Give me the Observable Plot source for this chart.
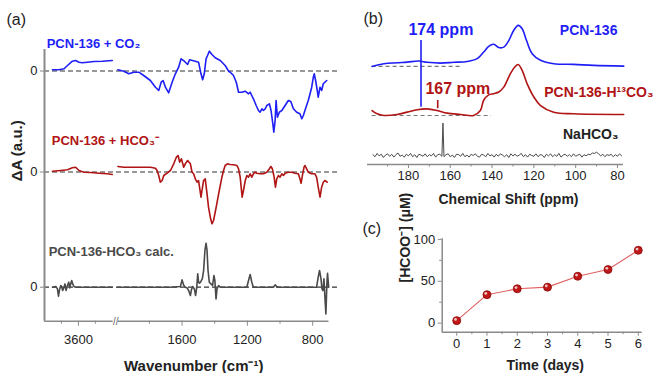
<!DOCTYPE html>
<html><head><meta charset="utf-8">
<script src="https://cdn.jsdelivr.net/npm/d3@7"></script>
<script src="https://cdn.jsdelivr.net/npm/@observablehq/plot@0.6"></script>
<style>
body{margin:0;background:#fff;}
#fig{position:relative;width:656px;height:373px;overflow:hidden;font-family:Arial,"Liberation Sans",sans-serif;background:#fff;}
.panel{position:absolute;}
</style></head><body><div id="fig">
<div class="panel" id="pa" style="left:0;top:0;width:345px"></div>
<div class="panel" id="pb" style="left:340px;top:0;width:316px"></div>
<div class="panel" id="pc" style="left:340px;top:210px;width:316px"></div>
</div>
<script>
// ---------- Panel (a): difference IR spectra ----------
const blueLeftW = [3906,3828,3769,3729,3671,3632,3593,3553,3494,3417,3318,3200];
const blueLeftA = [0.012,0.012,0.022,0.055,0.098,0.105,0.088,0.082,0.088,0.095,0.098,0.105];
const blueRightW = [1993,1957,1926,1896,1865,1835,1794,1763,1743,1728,1716,1702,1682,1661,1641,1621,1606,1586,1566,1554,1519,1499,1484,1474,1464,1453,1444,1433,1417,1397,1366,1336,1315,1305,1285,1268,1254,1234,1213,1193,1183,1173,1163,1146,1132,1122,1111,1102,1091,1081,1065,1055,1044,1038,1030,1024,1016,1004,989,969,949,934,918,898,878,867,857,841,827,816,806,796,790,782,772,766,755,745,735,725,714];
const blueRightA = [0.012,-0.002,-0.028,-0.012,-0.012,-0.045,-0.095,-0.162,-0.195,-0.112,-0.095,-0.162,-0.218,-0.112,-0.028,0.038,0.122,0.098,0.065,0.112,0.098,0.088,-0.028,-0.088,-0.028,0.122,0.155,0.198,0.165,0.132,0.105,0.055,-0.002,-0.012,-0.045,-0.112,-0.212,-0.212,-0.202,-0.228,-0.212,-0.245,-0.278,-0.345,-0.395,-0.412,-0.378,-0.395,-0.378,-0.345,-0.328,-0.395,-0.528,-0.612,-0.495,-0.295,-0.462,-0.412,-0.395,-0.345,-0.295,-0.305,-0.378,-0.412,-0.428,-0.478,-0.445,-0.362,-0.295,-0.228,-0.162,-0.062,-0.028,-0.095,-0.195,-0.262,-0.162,-0.195,-0.128,-0.112,-0.095];
const redLeftW = [3906,3808,3729,3671,3632,3593,3534,3455,3358,3259,3200];
const redLeftA = [0.008,0.015,0.022,0.042,0.048,0.015,-0.002,-0.005,-0.012,-0.018,-0.025];
const redRightW = [1993,1957,1875,1794,1763,1753,1743,1733,1722,1712,1692,1671,1651,1635,1624,1615,1604,1590,1580,1566,1549,1539,1529,1519,1508,1499,1493,1484,1478,1468,1458,1447,1438,1427,1417,1407,1391,1376,1366,1356,1346,1336,1322,1305,1285,1264,1254,1244,1238,1232,1224,1213,1203,1193,1183,1173,1163,1152,1142,1122,1102,1081,1065,1056,1047,1036,1028,1020,1010,1000,989,979,969,949,928,908,888,878,871,861,853,847,837,827,806,786,776,766,755,745,735,725,711];
const redRightA = [0.055,0.048,0.048,0.048,0.038,0.015,-0.035,-0.102,-0.085,-0.035,-0.012,0.015,0.082,0.148,0.165,0.098,0.132,0.048,0.082,0.115,0.082,-0.002,-0.018,-0.068,-0.102,-0.085,-0.152,-0.252,-0.185,-0.085,-0.068,-0.218,-0.352,-0.452,-0.518,-0.485,-0.352,-0.218,-0.135,-0.052,0.015,0.065,0.082,0.075,0.072,0.065,0.032,-0.052,-0.152,-0.252,-0.185,-0.085,-0.035,-0.052,-0.018,-0.052,-0.018,-0.002,-0.012,-0.018,-0.018,-0.002,0.032,0.055,0.032,-0.052,-0.152,-0.068,-0.035,-0.052,-0.018,-0.035,-0.012,-0.002,-0.002,-0.012,-0.018,-0.068,-0.112,-0.018,0.048,0.065,0.032,-0.002,-0.018,-0.018,-0.052,-0.152,-0.252,-0.152,-0.102,-0.085,-0.102];
const calcLeftW = [3906,3867,3847,3835,3823,3808,3796,3785,3769,3758,3746,3729,3714,3702,3691,3679,3667,3652,3632,3200];
const calcLeftA = [0,0.007,-0.017,-0.09,-0.027,0.017,0,-0.033,0,0.033,-0.033,0.017,0.05,-0.007,0.033,0.067,0.033,0.007,0,0];
const calcRightW = [1995,1671,1610,1600,1590,1580,1569,1560,1549,1543,1535,1525,1517,1510,1504,1499,1493,1484,1476,1468,1460,1453,1447,1441,1433,1423,1413,1405,1399,1392,1386,1376,1366,1203,1193,1183,1173,1163,1041,1030,1020,1010,776,766,758,749,743,737,731,725,719,713,709,702];
const calcRightA = [0,0,0.007,0.073,0.02,0,-0.007,-0.033,-0.083,-0.027,0.007,-0.017,-0.083,0,0.133,0.05,0.04,0.06,0.083,0.167,0.367,0.44,0.367,0.167,0.05,0.033,0.017,0.117,0.067,-0.117,-0.017,0.017,0,0,0.067,0.127,0.05,0,0,0.023,0.007,0,0,0.1,0.167,0.083,-0.017,-0.033,0.083,-0.1,-0.267,0.033,0.14,0];
const irSeries = ["PCN-136 + CO₂", "PCN-136 + HCO₃⁻", "PCN-136-HCO₃ calc."];
const irOffsets = [2.162, 1.152, 0];
const irColors = ["#1f1ff5", "#b01414", "#4a4a4a"];
const irLabelW = [3974, 3914, 3951];
const irLabelA = [0.275, 0.315, 0.357];
const wnMajor = [3600, 1600, 1200, 800];
const wnMinor = [3800, 3400, 1800, 1400, 1000];
const wnAxisPieces = [[4000, 3190], [1990, 700]];

// ---------- Panel (b): 13C NMR ----------
const nmrBluePpm = [197.4,191.8,185.4,180.6,175.1,171.1,164.7,158.3,151.9,147.1,144,141.6,139.2,136.8,134.4,132,129.6,127.5,125.6,123.5,120.8,116.8,110.5,100.9,91.3,77];
const nmrBlueI = [0,0.066,0.09,0.105,0.13,0.1,0.08,0.1,0.12,0.19,0.35,0.49,0.54,0.46,0.47,0.63,0.88,1.0,0.92,0.63,0.31,0.15,0.066,0.05,0.024,0.007];
const nmrRedPpm = [197.4,195,191.8,185.4,180.6,175.8,171.1,166.3,161.5,155.1,148.8,145.6,144,141.6,139.2,136.8,134.4,131.2,129.1,127.5,125.6,123.2,120,116.8,110.5,100.9,77];
const nmrRedI = [0.12,0.04,0,0.024,0.08,0.14,0.16,0.12,0.056,0.024,0,0.12,0.37,0.5,0.53,0.57,0.69,1.02,1.18,1.24,1.1,0.77,0.45,0.24,0.08,0.04,0.024];
const nmrNaPpm = [197,196,195,194,193,192,191,190,189,188,187,186,185,184,183,182,181,180,179,178,177,176,175,174,173,172,171,170,169,168,167,166,165,164,163.5,163,162,161,160,159,158,157,156,155,154,153,152,151,150,149,148,147,146,145,144,143,142,141,140,139,138,137,136,135,134,133,132,131,130,129,128,127,126,125,124,123,122,121,120,119,118,117,116,115,114,113,112,111,110,109,108,107,106,105,104,103,102,101,100,99,98,97,96,95,94,93,92,91,90,89,88,87,86,85,84,83,82,81,80,79,78];
const nmrNaI = [0.02,-0.03,0.05,-0.01,0.03,-0.05,0.01,0.04,-0.02,0.03,-0.04,0.02,0.06,-0.02,0.01,-0.04,0.03,-0.01,0.05,-0.03,0.02,-0.05,0.03,0.01,-0.02,0.04,-0.03,0.02,-0.01,0.05,-0.04,0.02,0.03,-0.02,
  0.79,
  -0.03,0.02,0.04,-0.03,0.01,-0.05,0.03,0.02,-0.02,0.05,-0.03,0.01,-0.04,0.03,0,0.04,-0.02,-0.04,0.03,0.01,
  -0.03,0.05,-0.01,0.02,-0.04,0.03,-0.02,0.04,0.01,-0.03,0.02,-0.05,0.04,-0.01,0.03,-0.02,0.01,0.05,-0.03,0.02,
  -0.04,0.03,0,-0.02,0.04,-0.03,0.02,0.01,-0.05,0.03,-0.01,0.04,-0.03,0.02,-0.02,0.05,-0.04,0.01,0.03,-0.02,
  0.02,-0.03,0.04,-0.02,0.01,0.03,-0.04,0.02,-0.01,0.03,0.02,0.06,0.05,0.08,0.04,-0.01,0.03,-0.03,0.02,0,
  0.03,-0.03,0.02,-0.02,0.04,-0.01];
const nmrOffsets = [2.171, 0.976, 0];
const nmrColors = ["#1f1ff5", "#b01414", "#4a4a4a"];
const nmrNames = ["PCN-136", "PCN-136-H¹³CO₃", "NaHCO₃"];
const nmrNameX = [80, 62.8, 79.5];
const nmrNameI = [0.88, 0.56, 0.51];
const nmrBaseStart = [197.4, 197.4];
const nmrBaseEnd = [154.3, 140.3];
const peakMarks = [174, 166];
const peakLabels = ["174 ppm", "167 ppm"];
const peakLabelX = [180, 171.9];
const peakLabelI = [3.07, 1.63];
const peakLow = [1.178, 1.139];
const peakHigh = [2.805, 1.341];
const ppmTicks = [180, 160, 140, 120, 100, 80];
const ppmMinor = [190, 170, 150, 130, 110, 90];

// ---------- Panel (c): formate ----------
const days = [0, 1, 2, 3, 4, 5, 6];
const formate = [3, 34, 41, 43, 56, 64, 87];
const dayMinor = [0.5, 1.5, 2.5, 3.5, 4.5, 5.5];
const concTicks = [0, 50, 100];
const concMinor = [25, 75];

const FONT = "Arial, 'Liberation Sans', sans-serif";
const baseStyle = {fontFamily: FONT, fontSize: "13px", color: "#222", background: "transparent", overflow: "visible"};
const AXC = "#8a8a8a";

// broken wavenumber axis: left segment (3200-4000) compressed
const U = w => w > 2500 ? 2235 + (w - 3600) * 0.519 : w;
const segRows = (ws, as, off, k) => ws.map((w, i) => ({u: U(w), y: as[i] + off, k}));
const irRows = [
  ...segRows(blueLeftW, blueLeftA, irOffsets[0], "b0"), ...segRows(blueRightW, blueRightA, irOffsets[0], "b1"),
  ...segRows(redLeftW, redLeftA, irOffsets[1], "r0"), ...segRows(redRightW, redRightA, irOffsets[1], "r1"),
  ...segRows(calcLeftW, calcLeftA, irOffsets[2], "g0"), ...segRows(calcRightW, calcRightA, irOffsets[2], "g1")
];
const colorOf = k => irColors["brg".indexOf(k[0])];
const majorLabel = new Map(wnMajor.map(w => [U(w), String(w)]));
const yMinA = -0.34;

const plotA = Plot.plot({
  width: 345, height: 373,
  marginLeft: 44, marginRight: 16.5, marginTop: 49, marginBottom: 52.3,
  x: {domain: [U(4000), 700]},
  y: {domain: [yMinA, 2.377]},
  style: baseStyle,
  marks: [
    Plot.ruleY(irOffsets, {x1: () => U(4000), x2: () => 640, stroke: "#333", strokeWidth: 1.2, strokeDasharray: "5,3"}),
    ...["b","r","g"].map(c => Plot.line(irRows.filter(d => d.k[0] === c), {x: "u", y: "y", z: "k", stroke: colorOf(c), strokeWidth: 1.6})),
    Plot.ruleX([U(4000)], {stroke: AXC, strokeWidth: 2}),
    Plot.ruleY(wnAxisPieces, {y: () => yMinA, x1: d => U(d[0]), x2: d => U(d[1]), stroke: AXC, strokeWidth: 1.5}),
    Plot.text(["//"], {x: () => (U(3190) + 1990) / 2, y: () => yMinA, fontSize: 10, fill: "#666", dy: 1}),
    Plot.axisX({ticks: wnMajor.map(U), tickFormat: d => majorLabel.get(d), tickSize: 5, tickPadding: 9, stroke: AXC, fill: "#222", fontSize: 13, label: null}),
    Plot.axisX({ticks: wnMinor.map(U), tickFormat: () => "", tickSize: 3, stroke: AXC, label: null}),
    Plot.axisY({ticks: irOffsets, tickFormat: () => "0", tickSize: 4, tickPadding: 3, stroke: AXC, fill: "#222", fontSize: 13, label: null}),
    Plot.text(irSeries, {x: (d, i) => U(irLabelW[i]), y: (d, i) => irOffsets[i] + irLabelA[i], text: d => d, fill: (d, i) => irColors[i], fontWeight: "bold", fontSize: 13, textAnchor: "start"}),
    Plot.text(["ΔA (a.u.)"], {frameAnchor: "left", rotate: -90, dx: -27, dy: -4, fontWeight: "bold", fontSize: 15, fill: "#222"}),
    Plot.text(["Wavenumber (cm⁻¹)"], {frameAnchor: "bottom", dx: 7, dy: 50, fontWeight: "bold", fontSize: 15, fill: "#222"}),
    Plot.text(["(a)"], {frameAnchor: "top-left", dx: -38, dy: -36, textAnchor: "start", fontSize: 16, fill: "#222"})
  ]
});
document.getElementById("pa").append(plotA);

// ---------- Panel (b) ----------
const nmrRows = [
  ...nmrBluePpm.map((p, i) => ({p, y: nmrBlueI[i] + nmrOffsets[0], k: 0})),
  ...nmrRedPpm.map((p, i) => ({p, y: nmrRedI[i] + nmrOffsets[1], k: 1})),
  ...nmrNaPpm.map((p, i) => ({p, y: nmrNaI[i] + nmrOffsets[2], k: 2}))
];
const yMinB = -0.22;
const plotB = Plot.plot({
  width: 316, height: 210,
  marginLeft: 27, marginRight: 33, marginTop: 20, marginBottom: 46,
  x: {domain: [199.6, 77.1]},
  y: {domain: [yMinB, 3.29], axis: null},
  style: baseStyle,
  marks: [
    Plot.ruleY(nmrBaseStart, {y: (d, i) => nmrOffsets[i], x1: d => d, x2: (d, i) => nmrBaseEnd[i], stroke: "#777", strokeWidth: 1.1, strokeDasharray: "4,3"}),
    Plot.line(nmrRows.filter(d => d.k === 0), {x: "p", y: "y", stroke: nmrColors[0], strokeWidth: 1.6, curve: "catmull-rom"}),
    Plot.line(nmrRows.filter(d => d.k === 1), {x: "p", y: "y", stroke: nmrColors[1], strokeWidth: 1.6, curve: "catmull-rom"}),
    Plot.line(nmrRows.filter(d => d.k === 2), {x: "p", y: "y", stroke: nmrColors[2], strokeWidth: 1}),
    Plot.ruleX(peakMarks, {y1: (d, i) => peakLow[i], y2: (d, i) => peakHigh[i], stroke: (d, i) => nmrColors[i], strokeWidth: 1.6}),
    Plot.text(peakLabels, {x: (d, i) => peakLabelX[i], y: (d, i) => peakLabelI[i], text: d => d, fill: (d, i) => nmrColors[i], fontWeight: "bold", fontSize: 16, textAnchor: "start"}),
    Plot.text(nmrNames, {x: (d, i) => nmrNameX[i], y: (d, i) => nmrOffsets[i] + nmrNameI[i], text: d => d, fill: (d, i) => i === 2 ? "#222" : nmrColors[i], fontWeight: "bold", fontSize: 14, textAnchor: "end"}),
    Plot.ruleY([yMinB], {stroke: AXC, strokeWidth: 1.5}),
    Plot.axisX({ticks: ppmTicks, tickSize: 4, tickPadding: 2, stroke: AXC, fill: "#222", fontSize: 13, label: null}),
    Plot.axisX({ticks: ppmMinor, tickFormat: () => "", tickSize: 2.5, stroke: AXC, label: null}),
    Plot.text(["Chemical Shift (ppm)"], {frameAnchor: "bottom", dx: 13, dy: 39, fontWeight: "bold", fontSize: 14, fill: "#222"}),
    Plot.text(["(b)"], {frameAnchor: "top-left", dx: -4, dy: -8, textAnchor: "start", fontSize: 16, fill: "#222"})
  ]
});
document.getElementById("pb").append(plotB);

// ---------- Panel (c) ----------
const cRows = days.map((d, i) => ({d, c: formate[i]}));
const plotC = Plot.plot({
  width: 316, height: 163,
  marginLeft: 101.7, marginRight: 14.3, marginTop: 28.3, marginBottom: 41.3,
  x: {domain: [-0.48, 6.13]},
  y: {domain: [-10.8, 100.7]},
  style: baseStyle,
  marks: [
    Plot.ruleX([-0.48], {stroke: AXC, strokeWidth: 1.5}),
    Plot.ruleY([-10.8], {stroke: AXC, strokeWidth: 1.5}),
    Plot.axisX({ticks: days, tickFormat: d3.format("d"), tickSize: 4, tickPadding: 3, stroke: AXC, fill: "#222", fontSize: 13, label: null}),
    Plot.axisX({ticks: dayMinor, tickFormat: () => "", tickSize: 2.5, stroke: AXC, label: null}),
    Plot.axisY({ticks: concTicks, tickFormat: d3.format("d"), tickSize: 4, tickPadding: 3, stroke: AXC, fill: "#222", fontSize: 13, label: null}),
    Plot.axisY({ticks: concMinor, tickFormat: () => "", tickSize: 2.5, stroke: AXC, label: null}),
    Plot.line(cRows, {x: "d", y: "c", stroke: "#e06060", strokeWidth: 1.1}),
    Plot.dot(cRows, {x: "d", y: "c", r: 4, fill: "#c01818", stroke: "#8a0a0a", strokeWidth: 0.8}),
    Plot.dot(cRows, {x: "d", y: "c", r: 1.4, fill: "#fff", fillOpacity: 0.75, dx: -1.2, dy: -1.2}),
    Plot.text(["[HCOO⁻] (μM)"], {frameAnchor: "left", rotate: -90, dx: -36.7, dy: -3, fontWeight: "bold", fontSize: 14, fill: "#222"}),
    Plot.text(["Time (days)"], {frameAnchor: "bottom", dx: 3, dy: 38, fontWeight: "bold", fontSize: 14, fill: "#222"}),
    Plot.text(["(c)"], {frameAnchor: "top-left", dx: -79.7, dy: -16.3, textAnchor: "start", fontSize: 16, fill: "#222"})
  ]
});
document.getElementById("pc").append(plotC);
</script>
</body></html>
